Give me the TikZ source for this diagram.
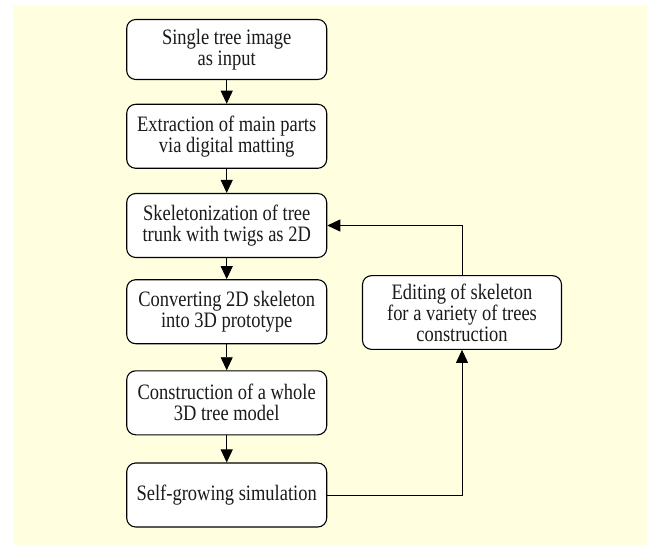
\documentclass[tikz,border=0pt]{standalone}
\usepackage{graphicx}
\usepackage{fontspec}
\setmainfont{Liberation Serif}
\usetikzlibrary{arrows.meta}
\definecolor{bgyellow}{HTML}{FFFFE0}
\definecolor{txt}{HTML}{1A1A1A}
\newcommand{\sqz}[1]{\scalebox{0.84}[1]{#1}}
\begin{document}
\begin{tikzpicture}[x=1pt,y=-1pt,
  box/.style={draw=black,line width=1.1pt,fill=white,rounded corners=9pt,
    minimum width=200pt,minimum height=64pt,align=center,inner sep=1pt,
    font=\fontsize{22}{21}\selectfont,text=txt},
  conn/.style={line width=0.9pt,-{Triangle[length=13pt,width=12pt]}}]
\useasboundingbox (0,0) rectangle (647,545);
\fill[bgyellow] (13,5) rectangle (647,545);
\node[box,minimum height=60pt] (b1) at (226.7,49.5) {\sqz{Single tree image}\\\sqz{as input}};
\node[box] (b2) at (226.7,136.3) {\sqz{Extraction of main parts}\\\sqz{via digital matting}};
\node[box] (b3) at (226.7,225.5) {\sqz{Skeletonization of tree}\\\sqz{trunk with twigs as 2D}};
\node[box] (b4) at (226.7,311.7) {\sqz{Converting 2D skeleton}\\\sqz{into 3D prototype}};
\node[box] (b5) at (226.7,402.8) {\sqz{Construction of a whole}\\\sqz{3D tree model}};
\node[box] (b6) at (226.7,495) {\sqz{Self-growing simulation}};
\node[box,minimum width=199pt,minimum height=73.7pt] (e) at (462,312.5) {\sqz{Editing of skeleton}\\\sqz{for a variety of trees}\\\sqz{construction}};
\draw[conn] (b1) -- (b2);
\draw[conn] (b2) -- (b3);
\draw[conn] (b3) -- (b4);
\draw[conn] (b4) -- (b5);
\draw[conn] (b5) -- (b6);
\draw[conn] (e.north) |- (b3.east);
\draw[conn] (b6.east) -| (e.south);
\end{tikzpicture}
\end{document}
